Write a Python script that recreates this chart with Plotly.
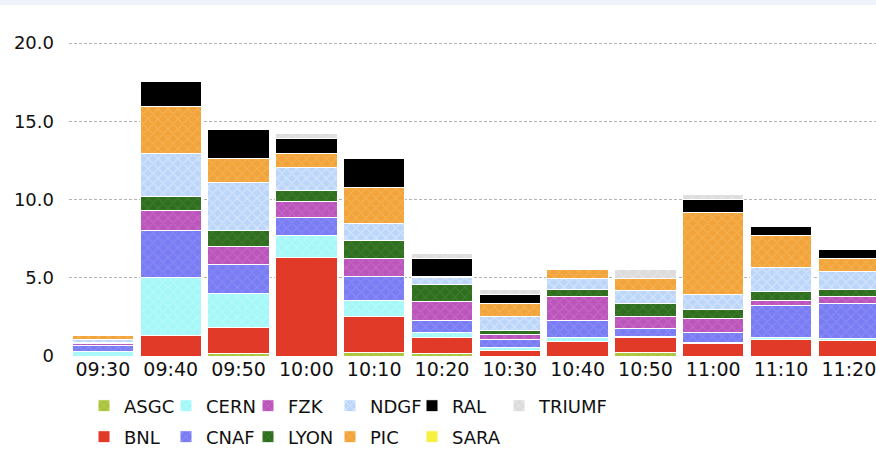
import plotly.graph_objects as go

times = ["09:30", "09:40", "09:50", "10:00", "10:10", "10:20",
         "10:30", "10:40", "10:50", "11:00", "11:10", "11:20"]

ASGC = [0, 0, 0.15, 0, 0.2, 0.15, 0, 0, 0.2, 0, 0, 0]
BNL = [0, 1.34, 1.67, 6.29, 2.3, 1.06, 0.32, 0.93, 1.0, 0.79, 1.07, 1.02]
CERN = [0.3, 3.65, 2.17, 1.42, 1.04, 0.32, 0.24, 0.25, 0.06, 0.05, 0.1, 0.1]
CNAF = [0.35, 3.04, 1.86, 1.14, 1.55, 0.71, 0.49, 1.06, 0.5, 0.65, 2.07, 2.25]
FZK = [0.12, 1.28, 1.15, 1.02, 1.15, 1.27, 0.3, 1.56, 0.74, 0.89, 0.29, 0.46]
LYON = [0.12, 0.86, 1.02, 0.73, 1.15, 1.03, 0.3, 0.44, 0.86, 0.56, 0.56, 0.43]
NDGF = [0.15, 2.78, 3.07, 1.44, 1.07, 0.46, 0.9, 0.72, 0.85, 1.0, 1.55, 1.17]
PIC = [0.25, 3.0, 1.54, 0.9, 2.29, 0.1, 0.83, 0.57, 0.74, 5.22, 2.03, 0.81]
RAL = [0, 1.6, 1.86, 0.96, 1.85, 1.13, 0.54, 0, 0, 0.85, 0.59, 0.58]
SARA = [0, 0, 0, 0, 0, 0, 0, 0, 0, 0, 0, 0]
TRIUMF = [0, 0, 0, 0.29, 0, 0.3, 0.32, 0, 0.55, 0.3, 0, 0]

sites = ["ASGC", "BNL", "CERN", "CNAF", "FZK", "LYON", "NDGF", "PIC", "RAL", "SARA", "TRIUMF"]
values = [ASGC, BNL, CERN, CNAF, FZK, LYON, NDGF, PIC, RAL, SARA, TRIUMF]
colors = ["#a9c43c", "#e23a28", "#a6f8f8", "#7a7cf4", "#bb55bb", "#2f6e1f",
          "#bcd6fa", "#f2a43a", "#000000", "#f8f040", "#dcdcdc"]
pattern_fg = ["#c8dc70", None, "#c8fcfc", "#9a9cf8", "#cf7acf", "#4a8a38",
              "#f2f7ff", "#f8c070", None, None, "#f0f0f0"]
legend_of = {"ASGC": "legend", "CERN": "legend", "FZK": "legend", "NDGF": "legend",
             "RAL": "legend", "TRIUMF": "legend3",
             "BNL": "legend2", "CNAF": "legend2", "LYON": "legend2", "PIC": "legend2",
             "SARA": "legend4"}

FONT = "DejaVu Sans"
W, H = 876, 461

fig = go.Figure()
for name, vals, col, pfg in zip(sites, values, colors, pattern_fg):
    marker = dict(color=col, line=dict(color="white", width=1))
    if pfg:
        marker["pattern"] = dict(shape="x", fgcolor=pfg, size=7, solidity=0.3,
                                 fillmode="overlay")
    fig.add_trace(go.Bar(
        x=times, y=vals, name=name, marker=marker,
        legend=legend_of[name],
    ))

LX = 84 / W
Y1 = 1 - 406 / H
Y2 = 1 - 437 / H
leg_common = dict(orientation="h", xref="container", yref="container",
                  xanchor="left", yanchor="middle", entrywidth=37,
                  font=dict(size=18, family=FONT), traceorder="normal",
                  itemclick=False, bgcolor="rgba(0,0,0,0)")

fig.update_layout(
    barmode="stack",
    bargap=0.095,
    width=W, height=H,
    margin=dict(l=69, r=0, t=20, b=105, autoexpand=False),
    paper_bgcolor="white",
    plot_bgcolor="white",
    font=dict(family=FONT, size=18, color="#111111"),
    legend=dict(leg_common, x=LX, y=Y1),
    legend2=dict(leg_common, x=LX, y=Y2),
    legend3=dict(leg_common, x=(84 + 5 * 83) / W, y=Y1, entrywidth=90),
    legend4=dict(leg_common, x=(84 + 4 * 82) / W, y=Y2, entrywidth=90),
    shapes=[dict(type="rect", xref="paper", yref="paper",
                 x0=-0.2, x1=1.2, y0=1 + 15 / 336, y1=1 + 20 / 336,
                 fillcolor="#eef2fb", line=dict(width=0), layer="below")],
)

fig.update_xaxes(
    type="category", range=[-0.5, 11.4],
    showgrid=False, showline=False, zeroline=False,
    ticks="", tickfont=dict(size=19, family=FONT),
    automargin=False,
)
fig.update_yaxes(
    range=[0, 21.47],
    tickvals=[0, 5, 10, 15, 20],
    ticktext=["0", "5.0", "10.0", "15.0", "20.0"],
    showgrid=True, gridcolor="#b4b4b4", gridwidth=1, griddash="3px,2px",
    zeroline=False, showline=False, ticks="",
    ticklabelstandoff=14,
    tickfont=dict(size=18, family=FONT),
    automargin=False,
)

fig.write_html(
    "out.html",
    config={"displayModeBar": False},
    post_script="document.body.style.margin='0';document.body.style.overflow='hidden';",
)
